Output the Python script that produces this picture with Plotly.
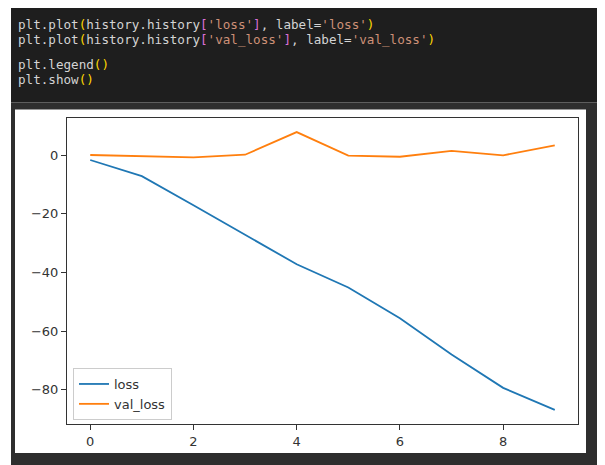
import plotly.graph_objects as go

# ---- data ----
epochs = [0, 1, 2, 3, 4, 5, 6, 7, 8, 9]
loss = [-1.7, -7.2, -17.1, -27.1, -37.2, -45.1, -55.6, -67.9, -79.3, -86.8]
val_loss = [0.0, -0.3, -0.8, 0.1, 7.8, -0.2, -0.6, 1.4, -0.1, 3.3]
x_ticks = [0, 2, 4, 6, 8]
y_ticks = [0, -20, -40, -60, -80]

code_lines = [
    [("plt.plot", "#d4d4d4"), ("(", "#ffd700"), ("history.history", "#d4d4d4"), ("[", "#da70d6"),
     ("'loss'", "#ce9178"), ("]", "#da70d6"), (", label=", "#d4d4d4"), ("'loss'", "#ce9178"), (")", "#ffd700")],
    [("plt.plot", "#d4d4d4"), ("(", "#ffd700"), ("history.history", "#d4d4d4"), ("[", "#da70d6"),
     ("'val_loss'", "#ce9178"), ("]", "#da70d6"), (", label=", "#d4d4d4"), ("'val_loss'", "#ce9178"), (")", "#ffd700")],
    [],
    [("plt.legend", "#d4d4d4"), ("()", "#ffd700")],
    [("plt.show", "#d4d4d4"), ("()", "#ffd700")],
]

# ---- layout geometry (reference pixels; the page body adds an 8px margin) ----
OFF = 8
W, H = 605 - OFF, 465 - OFF
L, R, T, B = 67 - OFF, 578 - OFF, 117.5 - OFF, 424 - OFF


def px(x):
    return (x - OFF - L) / (R - L)


def py(y):
    return (B - (y - OFF)) / (B - T)


fig = go.Figure()
fig.add_trace(go.Scatter(x=epochs, y=loss, mode="lines", name="loss",
                         line=dict(color="#1f77b4", width=1.8)))
fig.add_trace(go.Scatter(x=epochs, y=val_loss, mode="lines", name="val_loss",
                         line=dict(color="#ff7f0e", width=1.8)))

shapes = [
    dict(type="rect", xref="paper", yref="paper", x0=px(11), x1=px(620), y0=py(5), y1=py(102),
         fillcolor="#1e1e1e", line=dict(width=0), layer="below"),
    dict(type="rect", xref="paper", yref="paper", x0=px(11), x1=px(620), y0=py(3), y1=py(5),
         fillcolor="#000000", line=dict(width=0), layer="below"),
    dict(type="rect", xref="paper", yref="paper", x0=px(11), x1=px(620), y0=py(102), y1=py(480),
         fillcolor="#2e2e2e", line=dict(width=0), layer="below"),
    dict(type="rect", xref="paper", yref="paper", x0=px(15), x1=px(586), y0=py(109), y1=py(453),
         fillcolor="#ffffff", line=dict(width=0), layer="below"),
]

annotations = []
line_y = [24, 39, 52, 64, 79]
for i, parts in enumerate(code_lines):
    if not parts:
        continue
    txt = "".join(f'<span style="color:{c}">{t}</span>' for t, c in parts)
    annotations.append(dict(x=px(16), y=py(line_y[i]), xref="paper", yref="paper",
                            xanchor="left", yanchor="middle", showarrow=False, text=txt,
                            height=15, valign="middle",
                            font=dict(family="DejaVu Sans Mono", size=12.6, color="#d4d4d4")))

fig.update_layout(
    width=W, height=H,
    margin=dict(l=L, r=W - R, t=T, b=H - B),
    paper_bgcolor="#ffffff",
    plot_bgcolor="#ffffff",
    shapes=shapes,
    annotations=annotations,
    font=dict(family="DejaVu Sans", size=13, color="#333333"),
    legend=dict(x=px(73), y=py(420), xanchor="left", yanchor="bottom",
                bgcolor="rgba(255,255,255,0.8)", bordercolor="#cccccc", borderwidth=1,
                font=dict(family="DejaVu Sans", size=13, color="#333333"),
                tracegroupgap=0, itemwidth=30),
    xaxis=dict(range=[-0.45, 9.45], tickvals=x_ticks, ticks="outside", ticklen=5,
               tickcolor="#333333", showgrid=False, zeroline=False, showline=True, mirror=True,
               linecolor="#333333", linewidth=1),
    yaxis=dict(range=[-91.6, 12.6], tickvals=y_ticks, ticks="outside", ticklen=5,
               tickcolor="#333333", showgrid=False, zeroline=False, showline=True, mirror=True,
               linecolor="#333333", linewidth=1),
)

fig.write_html("out.html")
